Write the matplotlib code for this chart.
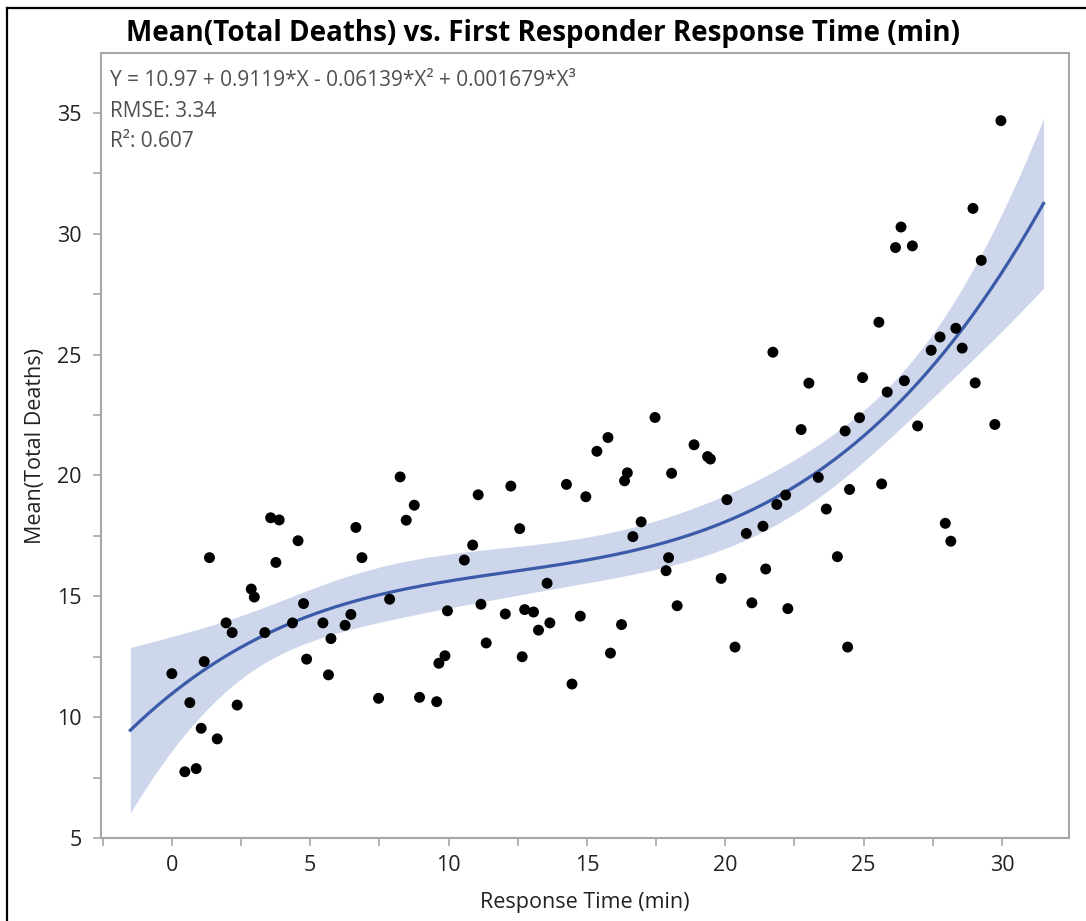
import numpy as np
import matplotlib
matplotlib.use("Agg")
import matplotlib.pyplot as plt
from matplotlib.lines import Line2D
from matplotlib.ticker import MultipleLocator

plt.rcParams['font.family'] = ['Open Sans', 'DejaVu Sans']

# response time (min) per observation
resp_time = [0.0, 0.65, 1.17, 1.06, 1.64, 0.47, 0.88, 1.36, 1.96, 2.18,
             2.36, 2.87, 2.98, 3.36, 3.57, 3.88, 3.76, 4.56, 4.36, 4.76,
             4.87, 5.46, 5.75, 5.66, 6.26, 6.47, 6.65, 6.87, 8.25, 8.76,
             8.47, 7.87, 7.47, 8.95, 9.57, 9.96, 9.87, 9.65, 11.07, 10.87,
             10.57, 11.17, 11.36, 12.25, 12.57, 12.05, 12.75, 13.07, 12.66, 13.25,
             13.66, 13.56, 14.26, 14.96, 14.76, 14.46, 17.46, 15.76, 15.36, 18.87,
             19.36, 19.46, 16.46, 16.36, 18.06, 22.74, 24.33, 20.06, 16.96, 16.66,
             17.95, 17.86, 23.36, 22.18, 21.86, 23.65, 24.49, 21.36, 20.76, 24.05,
             21.46, 19.85, 18.26, 20.96, 22.26, 16.25, 15.85, 20.35, 24.42, 29.96,
             28.95, 26.35, 26.15, 26.76, 29.25, 25.55, 28.33, 27.76, 27.44, 28.56,
             24.96, 26.47, 25.85, 29.03, 24.85, 26.95, 29.74, 25.65, 27.95, 28.15,
             21.72, 23.02]

# mean total deaths per observation
mean_deaths = [11.8, 10.6, 12.3, 9.54, 9.1, 7.74, 7.87, 16.6, 13.9, 13.5,
               10.5, 15.3, 14.97, 13.5, 18.25, 18.16, 16.4, 17.3, 13.9, 14.7,
               12.4, 13.9, 13.25, 11.75, 13.8, 14.25, 17.85, 16.6, 19.94, 18.77,
               18.15, 14.88, 10.78, 10.82, 10.64, 14.4, 12.54, 12.23, 19.2, 17.12,
               16.5, 14.67, 13.07, 19.56, 17.8, 14.27, 14.45, 14.35, 12.5, 13.6,
               13.9, 15.54, 19.63, 19.12, 14.18, 11.37, 22.4, 21.57, 21.0, 21.27,
               20.78, 20.68, 20.11, 19.78, 20.09, 21.9, 21.84, 19.0, 18.08, 17.47,
               16.6, 16.06, 19.92, 19.19, 18.8, 18.61, 19.42, 17.9, 17.6, 16.64,
               16.13, 15.74, 14.61, 14.73, 14.49, 13.83, 12.65, 12.9, 12.9, 34.68,
               31.05, 30.28, 29.43, 29.5, 28.9, 26.34, 26.09, 25.73, 25.18, 25.27,
               24.05, 23.92, 23.45, 23.83, 22.39, 22.05, 22.11, 19.65, 18.02, 17.28,
               25.1, 23.82]

# fit reported on the chart
fit_coef = [10.97, 0.9119, -0.06139, 0.001679]
rmse = 3.34
r_squared = 0.607
fit_range = (-1.5, 31.5)

x = np.array(resp_time)
y = np.array(mean_deaths)

# fit curve + confidence band of the mean
xs = np.linspace(fit_range[0], fit_range[1], 300)
V = np.vander(xs, 4, increasing=True)
curve = V @ np.array(fit_coef)
X = np.vander(x, 4, increasing=True)
xtx_inv = np.linalg.inv(X.T @ X)
lev = np.sum((V @ xtx_inv) * V, axis=1)
half = 1.98 * rmse * np.sqrt(lev)

W, H = 1086, 921
fig = plt.figure(figsize=(W / 100, H / 100), dpi=100)
ax = fig.add_axes([101 / W, 1 - 838 / H, (1069 - 101) / W, (838 - 53) / H])

ax.fill_between(xs, curve - half, curve + half, color='#cdd6ea', lw=0, zorder=1)
ax.plot(xs, curve, color='#3b5ba9', lw=2.3, zorder=2)
ax.scatter(x, y, s=62, color='black', edgecolors='none', zorder=3)

ax.set_xlim(-2.56, 32.42)
ax.set_ylim(5, 37.48)
ax.xaxis.set_major_locator(MultipleLocator(5))
ax.xaxis.set_minor_locator(MultipleLocator(2.5))
ax.yaxis.set_major_locator(MultipleLocator(5))
ax.yaxis.set_minor_locator(MultipleLocator(2.5))

gray = '#a8a8a8'
for sp in ax.spines.values():
    sp.set_color(gray)
    sp.set_linewidth(1.5)
ax.tick_params(which='both', direction='out', length=6, width=1.2, color=gray,
               labelsize=15.5, labelcolor='#222222')
ax.tick_params(axis='x', pad=6)
ax.tick_params(axis='y', pad=8)

ax.set_xlabel('Response Time (min)', fontsize=15.5, color='#222222', labelpad=12)
ax.set_ylabel('Mean(Total Deaths)', fontsize=15.5, color='#222222', labelpad=8)

txt_color = '#505050'
ax.text(0.009, 0.965, 'Y = 10.97 + 0.9119*X - 0.06139*X² + 0.001679*X³',
        transform=ax.transAxes, fontsize=15, color=txt_color, va='center')
ax.text(0.009, 0.926, f'RMSE: {rmse}', transform=ax.transAxes,
        fontsize=15, color=txt_color, va='center')
ax.text(0.009, 0.887, f'R²: {r_squared}', transform=ax.transAxes,
        fontsize=15, color=txt_color, va='center')

fig.text(0.5, 1 - 34 / H, 'Mean(Total Deaths) vs. First Responder Response Time (min)',
         ha='center', va='center', fontsize=20, fontweight='bold', color='black')

# screenshot frame (top and left edges)
fig.add_artist(Line2D([7 / W, 1], [1 - 8 / H, 1 - 8 / H], color='black', lw=1.6))
fig.add_artist(Line2D([7 / W, 7 / W], [0, 1 - 8 / H], color='black', lw=1.6))

fig.savefig('out.png', dpi=100)
